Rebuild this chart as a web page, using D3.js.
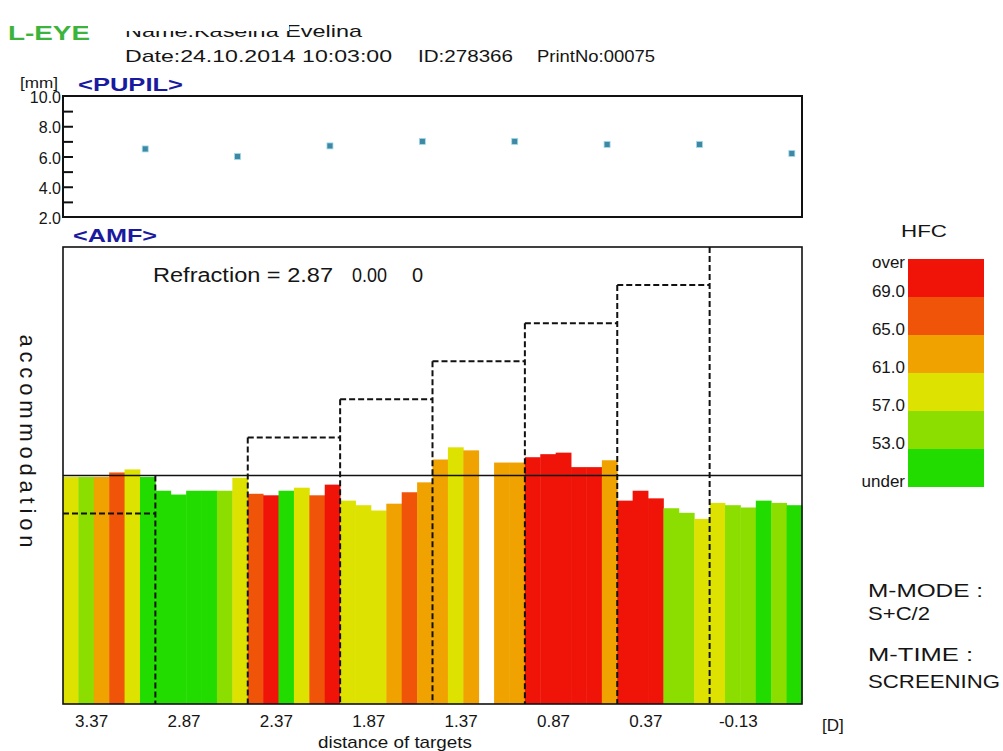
<!DOCTYPE html>
<html>
<head>
<meta charset="utf-8">
<script src="https://cdn.jsdelivr.net/npm/d3@7"></script>
<style>
body{margin:0;background:#fff;}
svg text{font-family:"Liberation Sans",Arial,sans-serif;fill:#151515;}
</style>
</head>
<body>
<svg id="chart" width="1003" height="751"></svg>
<script>
// target distances (D) and measured refraction
var targets = ["3.37","2.87","2.37","1.87","1.37","0.87","0.37","-0.13"];
var refraction = 2.87;

// pupil diameter (mm), one per target
var pupil = [6.5, 6.0, 6.7, 7.0, 7.0, 6.8, 6.8, 6.2];
var pupilLabels = [10, 8, 6, 4, 2];
var pupilMinor = [3, 4, 5, 6, 7, 8, 9];

// accommodation response relative to refraction (D), 6 samples per target
var accom = [
  -0.02, -0.02, -0.02, 0.04, 0.08, -0.02,
  -0.20, -0.25, -0.20, -0.20, -0.20, -0.03,
  -0.24, -0.26, -0.20, -0.16, -0.26, -0.12,
  -0.33, -0.39, -0.46, -0.37, -0.22, -0.09,
   0.21, 0.37, 0.33, null, 0.17, 0.17,
   0.24, 0.28, 0.30, 0.11, 0.11, 0.20,
  -0.33, -0.20, -0.30, -0.43, -0.49, -0.57,
  -0.36, -0.39, -0.42, -0.33, -0.36, -0.39
];
// high frequency component per sample
var hfc = [
  59, 55, 63, 67, 59, 51,
  51, 51, 51, 51, 55, 59,
  67, 71, 51, 59, 67, 71,
  59, 59, 59, 63, 67, 63,
  63, 59, 63, null, 63, 63,
  71, 71, 71, 71, 71, 63,
  71, 71, 71, 55, 55, 59,
  59, 55, 55, 51, 55, 51
];
var hfcBreaks = [53, 57, 61, 65, 69];
var hfcColors = ["#22dc00", "#8cde00", "#dee200", "#f0a200", "#f05408", "#f01408"];
var legendLabels = ["over", "69.0", "65.0", "61.0", "57.0", "53.0", "under"];

var svg = d3.select("#chart");

var L = 63, R = 802;
var x = d3.scaleLinear().domain([0, targets.length]).range([L, R]);
var xb = d3.scaleBand().domain(d3.range(accom.length)).range([L, R]);
var xt = d3.scaleBand().domain(targets).range([L, R]);
var yA = d3.scaleLinear().domain([-3, 3]).range([704, 247]);
var yP = d3.scaleLinear().domain([2, 10]).range([217, 96]);
var color = d3.scaleThreshold().domain(hfcBreaks).range(hfcColors);

function txt(x, y, s, size, o){
  o = o || {};
  var t = svg.append("text").attr("x", x).attr("y", y).attr("font-size", size).text(s);
  if(o.anchor) t.attr("text-anchor", o.anchor);
  if(o.len) t.attr("textLength", o.len).attr("lengthAdjust", "spacingAndGlyphs");
  if(o.fill) t.style("fill", o.fill);
  if(o.bold) t.attr("font-weight", "bold");
  return t;
}

// header
txt(8, 40, "L-EYE", 21, {bold:true, fill:"#3cb43c", len:82});
txt(125, 37, "Name:Kaseina Evelina", 17, {len:237});
svg.append("rect").attr("x", 88).attr("y", 0).attr("width", 201).attr("height", 31).attr("fill", "#fff");
txt(125, 62, "Date:24.10.2014 10:03:00", 17, {len:267});
txt(418, 62, "ID:278366", 17, {len:95});
txt(537, 62, "PrintNo:00075", 17, {len:118});

// pupil panel
txt(20, 88, "[mm]", 14, {len:38});
txt(78, 91, "<PUPIL>", 18, {bold:true, fill:"#1a1aa0", len:105});

svg.append("g")
  .attr("transform", "translate(" + L + ",0)")
  .call(d3.axisRight(yP).tickValues(pupilMinor).tickSize(10).tickFormat(""))
  .call(g => g.select(".domain").remove())
  .selectAll("line").attr("stroke", "#111").attr("stroke-width", 2);

svg.append("g")
  .attr("transform", "translate(" + (L - 1) + ",0)")
  .call(d3.axisLeft(yP).tickValues(pupilLabels).tickSize(0).tickPadding(1).tickFormat(d3.format(".1f")))
  .call(g => g.select(".domain").remove())
  .selectAll("text").attr("font-size", 16).attr("font-family", null).attr("dy", "0.42em");

svg.append("g").selectAll("rect")
  .data(pupil).enter().append("rect")
  .attr("x", (d, i) => x(i + 0.89) - 3)
  .attr("y", d => yP(d) - 3)
  .attr("width", 6).attr("height", 6)
  .attr("fill", "#3f87a3")
  .attr("stroke", "#9fdcec").attr("stroke-width", 0.8);

svg.append("rect").attr("x", L).attr("y", yP(10)).attr("width", R - L).attr("height", yP(2) - yP(10))
  .attr("fill", "none").attr("stroke", "#111").attr("stroke-width", 2);

// AMF panel
txt(73, 242, "<AMF>", 18, {bold:true, fill:"#1a1aa0", len:84});

var bars = accom.map((v, i) => ({v: v, h: hfc[i], i: i})).filter(d => d.v != null);
svg.append("g").selectAll("rect")
  .data(bars).enter().append("rect")
  .attr("x", d => xb(d.i))
  .attr("width", xb.bandwidth() + 0.4)
  .attr("y", d => yA(d.v))
  .attr("height", d => yA(-3) - yA(d.v))
  .attr("fill", d => color(d.h));

// refraction line
svg.append("line").attr("x1", L).attr("x2", R).attr("y1", yA(0)).attr("y2", yA(0))
  .attr("stroke", "#111").attr("stroke-width", 1.6);

// target staircase (levels at 0 and 3 sit on the solid lines)
var levels = targets.map(t => refraction - (+t));
var dash = svg.append("g").attr("fill", "none").attr("stroke", "#111")
  .attr("stroke-width", 2).attr("stroke-dasharray", "6,3");
levels.forEach(function(lv, i){
  if(Math.abs(lv) > 0.01 && lv < 3) {
    dash.append("line").attr("x1", x(i)).attr("x2", x(i + 1)).attr("y1", yA(lv)).attr("y2", yA(lv));
  }
  if(i < levels.length - 1){
    dash.append("line").attr("x1", x(i + 1)).attr("x2", x(i + 1))
      .attr("y1", yA(levels[i + 1])).attr("y2", yA(-3));
  }
});

svg.append("rect").attr("x", L).attr("y", yA(3)).attr("width", R - L).attr("height", yA(-3) - yA(3))
  .attr("fill", "none").attr("stroke", "#111").attr("stroke-width", 1.6);

txt(153, 282, "Refraction = 2.87", 20, {len:180});
txt(352, 282, "0.00", 20, {len:35});
txt(412, 282, "0", 20);

svg.append("text")
  .attr("transform", "translate(20,441) rotate(90)")
  .attr("text-anchor", "middle")
  .attr("font-size", 22)
  .attr("textLength", 213).attr("lengthAdjust", "spacing")
  .text("accommodation");

// x axis labels
svg.append("g")
  .attr("transform", "translate(0," + yA(-3) + ")")
  .call(d3.axisBottom(xt).tickSize(0).tickPadding(11))
  .call(g => g.select(".domain").remove())
  .selectAll("text").attr("font-size", 17).attr("font-family", null)
  .attr("dx", -0.19 * xt.bandwidth()).attr("dy", "0.71em");

txt(822, 731, "[D]", 17);
txt(395, 748, "distance of targets", 17, {anchor:"middle", len:154});

// HFC legend
var lg = svg.append("g");
var bandH = 38, lgTop = 259;
lg.selectAll("rect").data(hfcColors.slice().reverse()).enter().append("rect")
  .attr("x", 908).attr("y", (d, i) => lgTop + i * bandH)
  .attr("width", 76).attr("height", bandH)
  .attr("fill", d => d);
txt(924, 237, "HFC", 17, {anchor:"middle", len:46});
legendLabels.forEach(function(s, i){
  var yy = i == 0 ? lgTop + 9 : lgTop + i * bandH;
  txt(905, yy, s, 17, {anchor:"end"});
});

// mode info
txt(868, 597, "M-MODE :", 18, {len:115});
txt(868, 620, "S+C/2", 18, {len:62});
txt(868, 661, "M-TIME :", 18, {len:105});
txt(868, 688, "SCREENING", 18, {len:132});
</script>
</body>
</html>
